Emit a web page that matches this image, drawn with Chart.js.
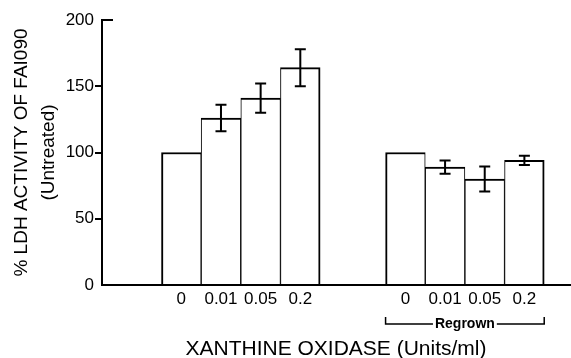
<!DOCTYPE html>
<html>
<head>
<meta charset="utf-8">
<script src="https://cdn.jsdelivr.net/npm/chart.js@4"></script>
<style>
  html, body { margin: 0; padding: 0; background: #fff; }
  #wrap { width: 571px; height: 358px; }
</style>
</head>
<body>
<div id="wrap"><canvas id="chart"></canvas></div>
<script>
// doses along the x-axis, repeated for each block of bars
const doses = ['0', '0.01', '0.05', '0.2'];
const groups = ['Treated', 'Regrown'];
// % LDH activity (untreated = 100), means and error half-heights
const treated = [100, 126, 141, 164];
const treatedErr = [0, 10, 11, 14];
const regrown = [100, 89, 80, 94];
const regrownErr = [0, 5, 9.5, 3.5];
const yTicks = [0, 50, 100, 150, 200];

// layout of the blocks on the x scale (in bar widths)
const leadGap = 1.5;
const groupGap = 1.65;
const xMax = 11.8;

const values = treated.concat(regrown);
const errors = treatedErr.concat(regrownErr);
const positions = [];
const tickLabels = [];
groups.forEach((g, gi) => {
  doses.forEach((d, i) => {
    positions.push(leadGap + 0.5 + gi * (doses.length + groupGap) + i);
    tickLabels.push(d);
  });
});
const points = values.map((v, i) => ({ x: positions[i], y: v }));

Chart.defaults.font.family = "'Liberation Sans', Arial, sans-serif";
Chart.defaults.color = '#000';

const errorBars = {
  id: 'errorBars',
  afterDatasetsDraw(chart) {
    const { ctx, scales: { y } } = chart;
    const meta = chart.getDatasetMeta(0);
    ctx.save();
    ctx.strokeStyle = '#000';
    ctx.lineWidth = 2;
    meta.data.forEach((bar, i) => {
      const e = errors[i];
      if (!e) return;
      const top = y.getPixelForValue(values[i] + e);
      const bot = y.getPixelForValue(values[i] - e);
      ctx.beginPath();
      ctx.moveTo(bar.x, top); ctx.lineTo(bar.x, bot);
      ctx.moveTo(bar.x - 5.5, top); ctx.lineTo(bar.x + 5.5, top);
      ctx.moveTo(bar.x - 5.5, bot); ctx.lineTo(bar.x + 5.5, bot);
      ctx.stroke();
    });
    ctx.restore();
  }
};

// "Regrown" bracket under the second block, and the cap on the y-axis top
const extras = {
  id: 'extras',
  afterDraw(chart) {
    const { ctx, chartArea, scales: { x, y } } = chart;
    const n = doses.length;
    const left = x.getPixelForValue(positions[n] - 0.5);
    const right = x.getPixelForValue(positions[2 * n - 1] + 0.5);
    const yLine = chartArea.bottom + 39;
    const mid = (left + right) / 2;
    ctx.save();
    ctx.strokeStyle = '#000';
    ctx.lineWidth = 1.5;
    ctx.font = "bold 14px 'Liberation Sans', Arial, sans-serif";
    const tw = ctx.measureText(groups[1]).width;
    ctx.beginPath();
    ctx.moveTo(left, yLine - 7); ctx.lineTo(left, yLine); ctx.lineTo(mid - tw / 2 - 2, yLine);
    ctx.moveTo(mid + tw / 2 + 2, yLine); ctx.lineTo(right, yLine); ctx.lineTo(right, yLine - 7);
    ctx.stroke();
    ctx.fillStyle = '#000';
    ctx.textAlign = 'center';
    ctx.textBaseline = 'middle';
    ctx.fillText(groups[1], mid, yLine);

    const yTop = y.getPixelForValue(yTicks[yTicks.length - 1]);
    ctx.lineWidth = 2;
    ctx.beginPath();
    ctx.moveTo(chartArea.left - 1, yTop); ctx.lineTo(chartArea.left + 11, yTop);
    ctx.stroke();
    ctx.restore();
  }
};

const n = doses.length;
new Chart(document.getElementById('chart'), {
  type: 'bar',
  data: {
    datasets: [{
      data: points,
      backgroundColor: '#fff',
      borderColor: '#000',
      borderSkipped: 'bottom',
      borderWidth: ctx => {
        const i = ctx.dataIndex % n;
        return { top: 2, bottom: 0, left: i === 0 ? 2 : 1, right: i === n - 1 ? 2 : 1 };
      },
      barPercentage: 1,
      categoryPercentage: 1
    }]
  },
  options: {
    responsive: true,
    maintainAspectRatio: false,
    animation: false,
    layout: { padding: { top: 20, right: 1, left: 0, bottom: 0 } },
    plugins: { legend: { display: false }, tooltip: { enabled: false } },
    scales: {
      x: {
        type: 'linear',
        offset: false,
        min: 0,
        max: xMax,
        afterBuildTicks: s => { s.ticks = positions.map(v => ({ value: v })); },
        ticks: {
          callback: (v, i) => tickLabels[i],
          autoSkip: false,
          maxRotation: 0,
          color: '#000',
          font: { size: 17 },
          padding: 4
        },
        grid: { display: false, drawTicks: false },
        border: { color: '#000', width: 2 },
        title: {
          display: true,
          text: 'XANTHINE OXIDASE (Units/ml)',
          color: '#000',
          font: { size: 21, lineHeight: 0.8 },
          padding: { top: 0, bottom: 0 }
        },
        afterFit: s => { s.height = 73; }
      },
      y: {
        min: 0,
        max: 200,
        afterBuildTicks: s => { s.ticks = yTicks.map(v => ({ value: v })); },
        ticks: { color: '#000', font: { size: 17 }, padding: 1 },
        grid: {
          drawOnChartArea: false,
          tickLength: 7,
          lineWidth: 2,
          color: ctx => (ctx.tick && (ctx.tick.value === 0 || ctx.tick.value === 200)) ? 'rgba(0,0,0,0)' : '#000'
        },
        border: { color: '#000', width: 2 },
        title: {
          display: true,
          text: ['% LDH ACTIVITY OF FAI090', '(Untreated)'],
          color: '#000',
          font: { size: 19, lineHeight: 1.42 },
          padding: { top: 8, bottom: 0 }
        },
        afterFit: s => { s.width = 102; }
      }
    }
  },
  plugins: [errorBars, extras]
});
</script>
</body>
</html>
